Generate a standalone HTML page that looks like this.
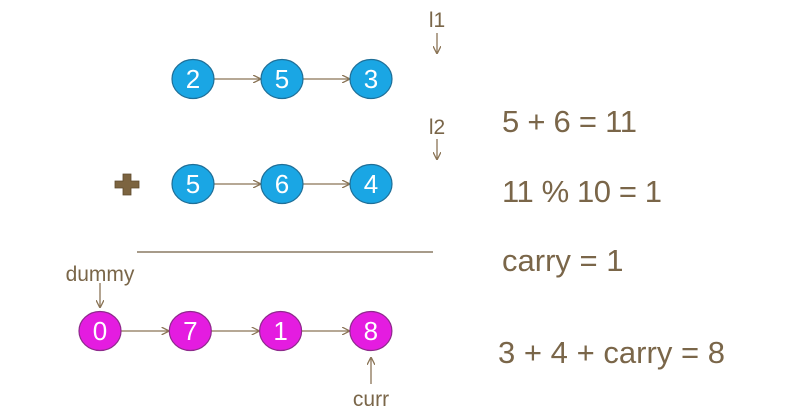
<!DOCTYPE html>
<html><head><meta charset="utf-8"><style>
html,body{margin:0;padding:0;background:#fff;}
svg{display:block;font-family:"Liberation Sans",sans-serif;}
</style></head><body>
<svg width="796" height="414" viewBox="0 0 796 414">
<defs><marker id="ah" markerWidth="8" markerHeight="8" refX="7" refY="4" orient="auto" markerUnits="userSpaceOnUse"><path d="M0,0 L8,4 L0,8" fill="none" stroke="#8a7456" stroke-width="1.3"/></marker></defs>
<g id="diagram"></g>
<line x1="137" y1="252" x2="433" y2="252" stroke="#8a7a64" stroke-width="1.5"/>
<g fill="#7a6649" font-size="31">
<text x="502" y="132" textLength="135">5 + 6 = 11</text>
<text x="502" y="202" textLength="160">11 % 10 = 1</text>
<text x="502" y="271">carry = 1</text>
<text x="498" y="363" textLength="227">3 + 4 + carry = 8</text>
</g>
<g fill="#7a6649" font-size="21">
<text x="437" y="27" text-anchor="middle">l1</text>
<text x="437" y="134" text-anchor="middle">l2</text>
<text x="100" y="281" text-anchor="middle">dummy</text>
<text x="371" y="406" text-anchor="middle">curr</text>
</g>
<g stroke="#8a7456" stroke-width="1.3" marker-end="url(#ah)">
<line x1="437" y1="33" x2="437" y2="53"/>
<line x1="437" y1="139" x2="437" y2="159"/>
<line x1="100" y1="283" x2="100" y2="307"/>
<line x1="371" y1="384" x2="371" y2="358"/>
</g>
<g fill="#7c6440" stroke="#5e4a2c" stroke-width="0.8">
<path d="M123,174 h8 v7 h8 v7 h-8 v7 h-8 v-7 h-8 v-7 h8 z"/>
</g>
</svg>
<script>
const list1 = [2, 5, 3];
const list2 = [5, 6, 4];
const result = [0, 7, 1, 8];
const g = document.getElementById('diagram');
const NS = 'http://www.w3.org/2000/svg';
function drawList(vals, x0, y, fill, stroke, name) {
  const step = vals.length === 4 ? 90.3 : 89;
  vals.forEach((v, i) => {
    const cx = x0 + i * step;
    if (i < vals.length - 1) {
      const ln = document.createElementNS(NS, 'line');
      ln.setAttribute('x1', cx + 21); ln.setAttribute('y1', y);
      ln.setAttribute('x2', cx + step - 22); ln.setAttribute('y2', y);
      ln.setAttribute('stroke', '#8a7456'); ln.setAttribute('stroke-width', '1.3');
      ln.setAttribute('marker-end', 'url(#ah)');
      
      
      g.appendChild(ln);
    }
    const e = document.createElementNS(NS, 'ellipse');
    e.setAttribute('cx', cx); e.setAttribute('cy', y);
    e.setAttribute('rx', 21); e.setAttribute('ry', 19.5);
    e.setAttribute('fill', fill); e.setAttribute('stroke', stroke); e.setAttribute('stroke-width', '1.2');
    
    
    g.appendChild(e);
    const t = document.createElementNS(NS, 'text');
    t.setAttribute('x', cx); t.setAttribute('y', y + 9);
    t.setAttribute('text-anchor', 'middle'); t.setAttribute('fill', '#fff'); t.setAttribute('font-size', '26');
    t.textContent = v;
    
    
    g.appendChild(t);
  });
}
drawList(list1, 193, 79, '#1aa6e4', '#1f6f98', 'l1');
drawList(list2, 193, 184, '#1aa6e4', '#1f6f98', 'l2');
drawList(result, 100, 331, '#e41ce0', '#8e2a8c', 'result');
</script>
</body></html>
